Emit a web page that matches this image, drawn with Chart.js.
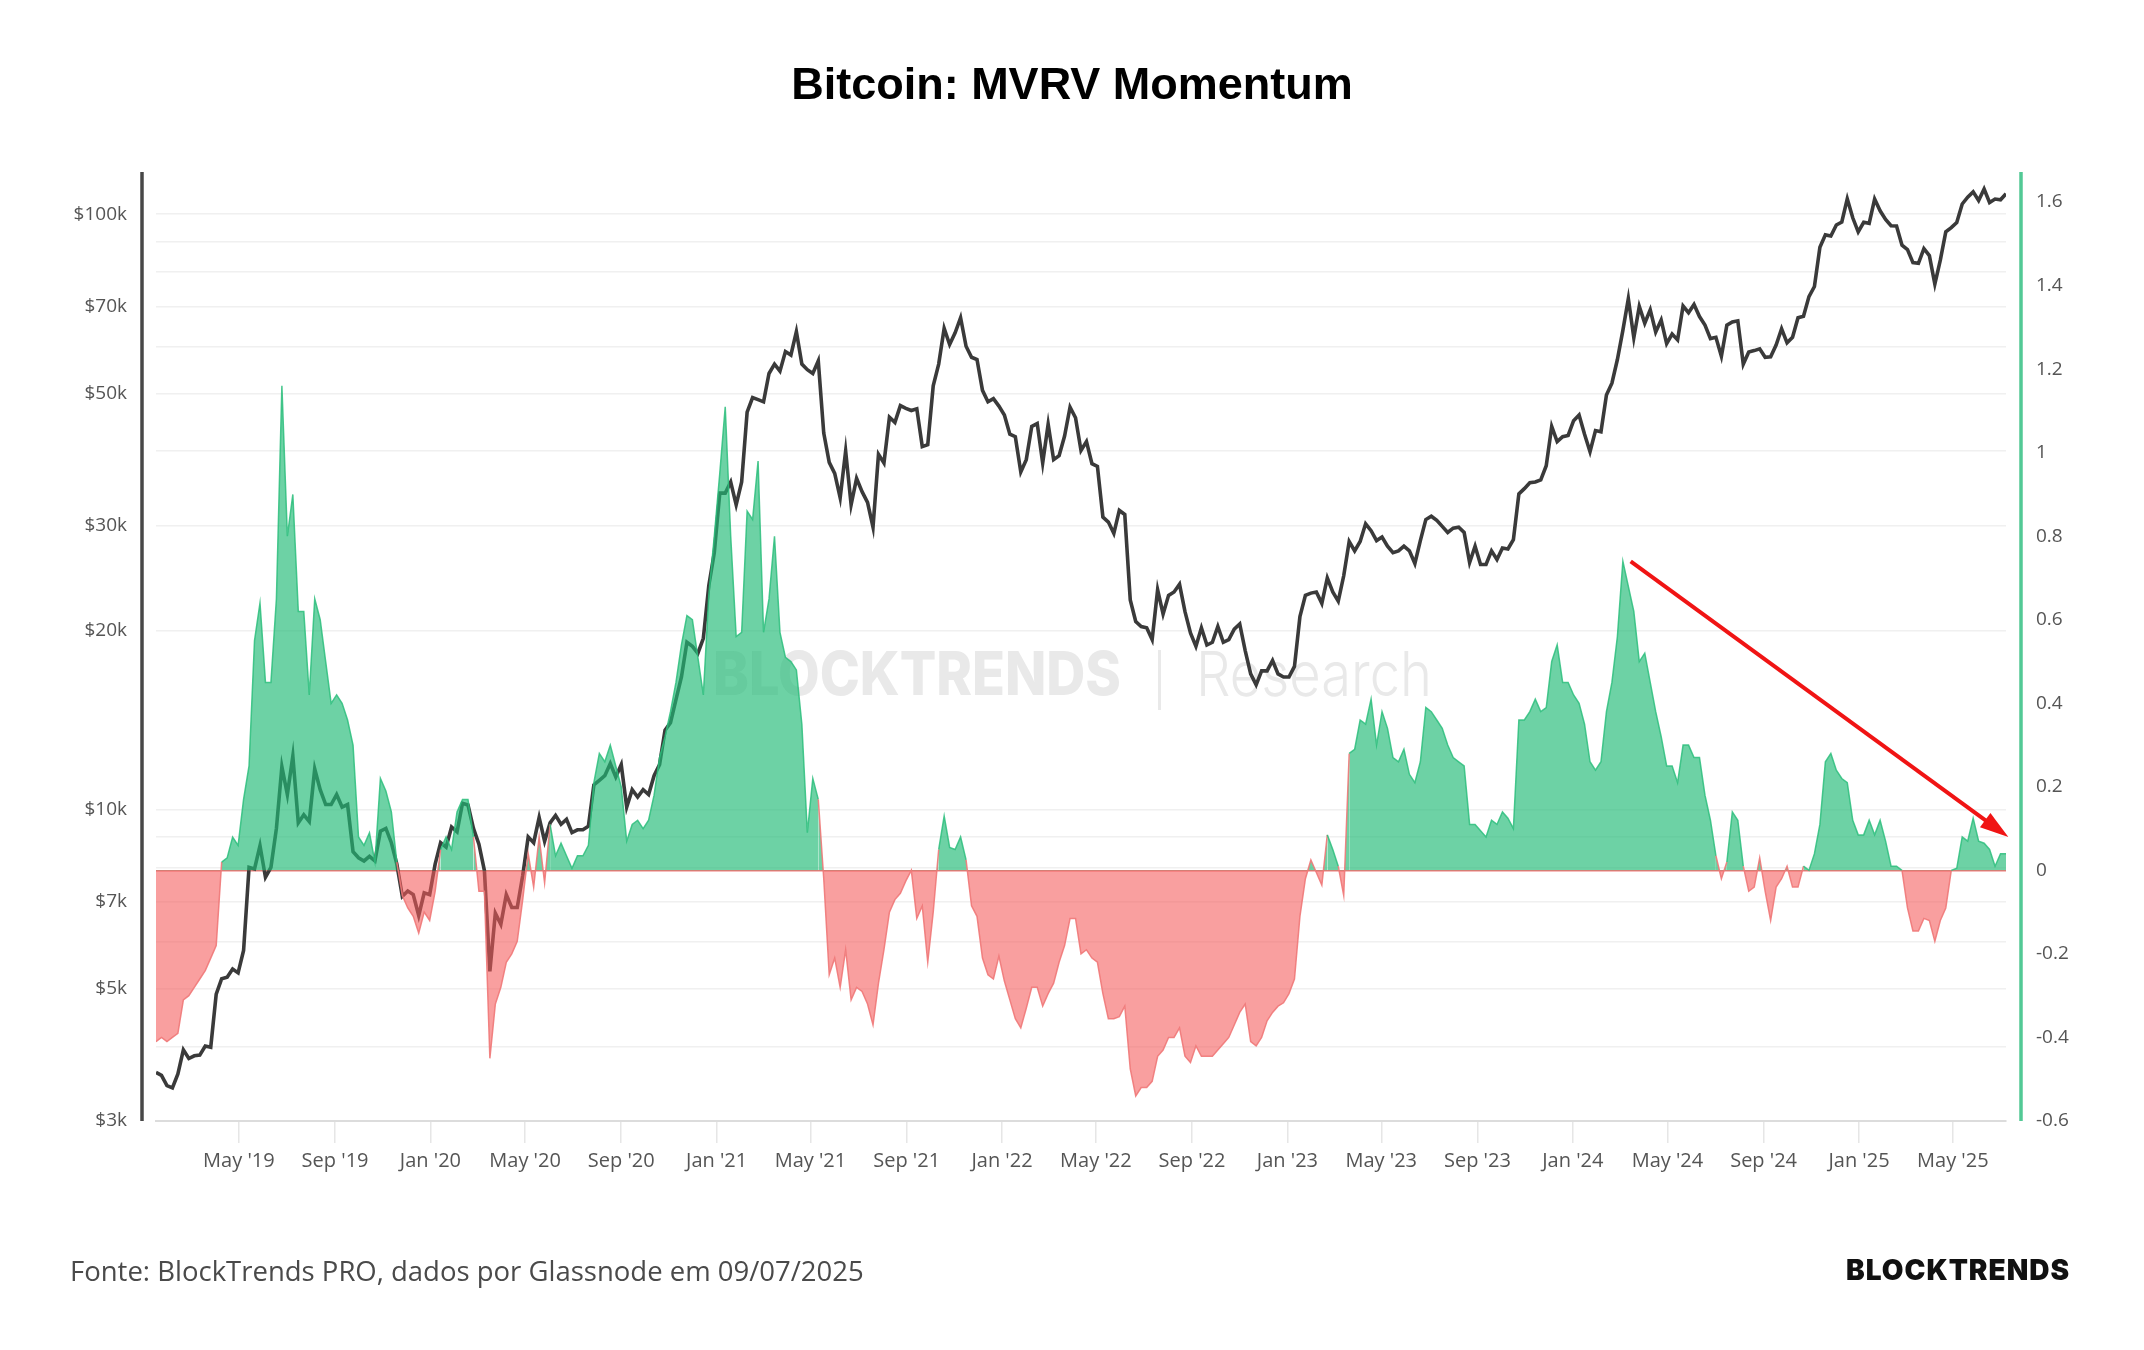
<!DOCTYPE html>
<html>
<head>
<meta charset="utf-8">
<script src="https://cdn.jsdelivr.net/npm/chart.js@4.4.1/dist/chart.umd.min.js"></script>
<style>
  html, body { margin: 0; padding: 0; background: #fff; }
  #wrap { position: relative; width: 2144px; height: 1350px; overflow: hidden; }
  #title { position: absolute; top: 58px; left: 0; width: 2144px; text-align: center;
           font: 700 45px "Liberation Sans", Arial, sans-serif; color: #000; }
  #source { position: absolute; left: 70px; top: 1252px; font: 400 27.5px "Open Sans", sans-serif; color: #4a4a4a; white-space: nowrap; }
  #brand { position: absolute; left: 1846px; top: 1253px; font: 900 28px Inter, sans-serif; color: #111; letter-spacing: 1px; white-space: nowrap; }
  canvas { position: absolute; left: 0; top: 0; }
</style>
</head>
<body>
<div id="wrap">
  <canvas id="c" width="2144" height="1350"></canvas>
  <div id="title">Bitcoin: MVRV Momentum</div>
  <div id="source">Fonte: BlockTrends PRO, dados por Glassnode em 09/07/2025</div>
  <div id="brand">BLOCKTRENDS</div>
</div>
<script>
// weekly samples, first one on 2019-01-15, one every 7 days
const weekStart = '2019-01-15';
const weekStep = 7;

// BTC price (USD), weekly
const price = [
  3620, 3580, 3440, 3410, 3600, 3950, 3820, 3860, 3870, 4010, 3990, 4900, 5200, 5230, 5400, 5320,
  5800, 8000, 7950, 8700, 7700, 8000, 9300, 11800, 10600, 12300, 9500, 9800, 9550, 11700, 10800, 10200,
  10200, 10600, 10100, 10200, 8500, 8300, 8200, 8350, 8200, 9200, 9300, 8800, 8100, 7150, 7300, 7200,
  6640, 7250, 7200,
  8100, 8800, 8650, 9350, 9180, 10250, 10180, 9300, 8750, 7900, 5350, 6700, 6420, 7200, 6850, 6850,
  7750, 9000, 8800, 9700, 8850, 9500, 9780, 9450, 9630, 9150, 9250, 9250, 9380, 11000, 11200, 11400,
  11950, 11350, 11900, 10100, 10800, 10500, 10800, 10600, 11400, 11900, 13600, 14000, 15300, 16700, 19100, 18800,
  18300, 19400, 23800, 27000,
  34000, 34000, 35500, 32500, 35500, 46500, 49200, 48800, 48400, 54000, 56000, 54500, 58800, 58000, 63500, 56000,
  54800, 54000, 56700, 42900, 38300, 36700, 33400, 40000, 32500, 36000, 34200, 32800, 29800, 39500, 38200, 45600,
  44700, 47700, 47200, 46800, 47100, 40700, 41000, 51500, 56000, 64300, 60400, 63200, 67000, 60000, 57500, 57000,
  50600, 48400, 49000, 47600,
  46000, 42700, 42300, 36900, 38700, 44000, 44500, 38200, 44400, 38700, 39300, 42400, 47400, 45500, 40100, 41500,
  38100, 37700, 31000, 30400, 29100, 31800, 31300, 22500, 20700, 20300, 20200, 19300, 23400, 21300, 22900, 23200,
  23900, 21500, 19800, 18800, 20200, 18900, 19100, 20300, 19100, 19300, 20100, 20500, 18500, 16900, 16200, 17100,
  17100, 17800, 16900, 16700,
  16700, 17400, 21100, 22900, 23100, 23200, 22200, 24500, 23200, 22400, 24700, 28200, 27200, 28200, 30200, 29400,
  28300, 28700, 27700, 27000, 27200, 27700, 27200, 25900, 28300, 30700, 31100, 30600, 29900, 29200, 29700, 29800,
  29200, 26000, 27700, 25800, 25800, 27200, 26300, 27500, 27400, 28400, 33900, 34600, 35400, 35500, 35800, 37800,
  44000, 41500, 42300, 42500,
  45000, 46000, 42700, 39900, 43300, 43100, 49700, 52000, 57000, 63800, 72100, 62000, 70000, 65600, 69100, 63400,
  66400, 60600, 62900, 61500, 70100, 68300, 70500, 67300, 65100, 61800, 62100, 57700, 65100, 65900, 66200, 56000,
  58700, 59000, 59400, 57500, 57600, 60300, 64200, 60800, 62100, 67000, 67400, 72700, 75600, 88000, 92300, 91900,
  95900, 97000, 106100, 98600, 93400,
  96900, 96500, 106000, 101300, 98000, 95600, 95500, 88700, 87200, 82900, 82700, 87500, 85200, 76300, 83700, 93400,
  94900, 96800, 104000, 106800, 109000, 105400, 110200, 104600, 106000, 105700, 108200
];

// MVRV Momentum, weekly
const mvrv = [
  -0.41, -0.40, -0.41, -0.40, -0.39, -0.31, -0.30, -0.28, -0.26, -0.24, -0.21, -0.18, 0.02, 0.03, 0.08, 0.06,
  0.17, 0.25, 0.55, 0.64, 0.45, 0.45, 0.65, 1.16, 0.80, 0.90, 0.62, 0.62, 0.42, 0.65, 0.60, 0.50,
  0.40, 0.42, 0.40, 0.36, 0.30, 0.08, 0.06, 0.09, 0.02, 0.22, 0.19, 0.14, 0.02, -0.06, -0.09, -0.11,
  -0.15, -0.10, -0.12,
  -0.05, 0.05, 0.08, 0.05, 0.14, 0.17, 0.17, 0.08, -0.05, -0.05, -0.45, -0.32, -0.28, -0.22, -0.20, -0.17,
  -0.07, 0.04, -0.04, 0.08, -0.03, 0.11, 0.035, 0.065, 0.035, 0.005, 0.035, 0.035, 0.06, 0.21, 0.28, 0.26,
  0.30, 0.25, 0.20, 0.07, 0.11, 0.12, 0.10, 0.12, 0.18, 0.27, 0.32, 0.38, 0.45, 0.54, 0.61, 0.60,
  0.51, 0.42, 0.66, 0.80,
  0.95, 1.11, 0.80, 0.56, 0.57, 0.86, 0.84, 0.98, 0.57, 0.65, 0.80, 0.57, 0.51, 0.50, 0.48, 0.35,
  0.09, 0.22, 0.17, -0.02, -0.25, -0.21, -0.28, -0.19, -0.31, -0.28, -0.29, -0.32, -0.37, -0.27, -0.19, -0.10,
  -0.07, -0.055, -0.025, 0.0, -0.115, -0.085, -0.22, -0.10, 0.05, 0.13, 0.055, 0.05, 0.08, 0.025, -0.085, -0.11,
  -0.21, -0.25, -0.26, -0.205,
  -0.265, -0.31, -0.355, -0.377, -0.33, -0.28, -0.28, -0.325, -0.295, -0.27, -0.22, -0.18, -0.115, -0.115, -0.20, -0.19,
  -0.21, -0.22, -0.295, -0.355, -0.355, -0.35, -0.325, -0.475, -0.54, -0.52, -0.52, -0.505, -0.445, -0.43, -0.40, -0.40,
  -0.377, -0.445, -0.46, -0.42, -0.445, -0.445, -0.445, -0.43, -0.415, -0.40, -0.37, -0.34, -0.32, -0.41, -0.42, -0.40,
  -0.36, -0.34, -0.325, -0.317,
  -0.295, -0.26, -0.11, -0.02, 0.025, -0.005, -0.035, 0.085, 0.05, 0.01, -0.06, 0.28, 0.29, 0.36, 0.35, 0.41,
  0.30, 0.38, 0.34, 0.27, 0.26, 0.29, 0.23, 0.21, 0.26, 0.39, 0.38, 0.36, 0.34, 0.30, 0.27, 0.26,
  0.25, 0.11, 0.11, 0.095, 0.08, 0.12, 0.11, 0.14, 0.125, 0.10, 0.36, 0.36, 0.38, 0.41, 0.38, 0.39,
  0.50, 0.54, 0.45, 0.45,
  0.42, 0.40, 0.35, 0.26, 0.24, 0.26, 0.38, 0.45, 0.56, 0.74, 0.68, 0.62, 0.50, 0.52, 0.45, 0.38,
  0.32, 0.25, 0.25, 0.21, 0.30, 0.30, 0.27, 0.27, 0.18, 0.12, 0.035, -0.02, 0.02, 0.14, 0.12, 0.01,
  -0.05, -0.04, 0.03, -0.05, -0.12, -0.04, -0.02, 0.01, -0.04, -0.04, 0.01, 0.0, 0.04, 0.11, 0.26, 0.28,
  0.24, 0.22, 0.21, 0.12, 0.085,
  0.085, 0.12, 0.085, 0.12, 0.07, 0.01, 0.01, 0.0, -0.09, -0.145, -0.145, -0.115, -0.12, -0.17, -0.12, -0.09,
  0.0, 0.005, 0.08, 0.07, 0.125, 0.07, 0.065, 0.05, 0.01, 0.04, 0.04
];

// axis ticks
const monthTicks = ['2019-05-01', '2019-09-01', '2020-01-01', '2020-05-01', '2020-09-01', '2021-01-01', '2021-05-01',
  '2021-09-01', '2022-01-01', '2022-05-01', '2022-09-01', '2023-01-01', '2023-05-01', '2023-09-01', '2024-01-01',
  '2024-05-01', '2024-09-01', '2025-01-01', '2025-05-01'];
const priceGrid = [3000, 4000, 5000, 6000, 7000, 8000, 9000, 10000, 20000, 30000, 40000, 50000, 60000, 70000, 80000, 90000, 100000];
const priceLabels = [3000, 5000, 7000, 10000, 20000, 30000, 50000, 70000, 100000];
const mvrvTicks = [-0.6, -0.4, -0.2, 0, 0.2, 0.4, 0.6, 0.8, 1, 1.2, 1.4, 1.6];

// annotation arrow (date, mvrv)
const arrowDates = ['2024-03-15', '2025-07-11'];
const arrowValues = [0.74, 0.08];

const MONTHS = ['Jan', 'Feb', 'Mar', 'Apr', 'May', 'Jun', 'Jul', 'Aug', 'Sep', 'Oct', 'Nov', 'Dec'];
function dayNum(s) {
  const [y, m, d] = s.split('-').map(Number);
  return Date.UTC(y, m - 1, d) / 86400000;
}
function monthLabel(v) {
  const dt = new Date(v * 86400000);
  return MONTHS[dt.getUTCMonth()] + " '" + String(dt.getUTCFullYear()).slice(2);
}

const start = dayNum(weekStart);
const days = price.map((_, i) => start + weekStep * i);
const tickFont = { family: 'Open Sans', size: 19 };

const decor = {
  id: 'decor',
  beforeDatasetsDraw(chart) {
    const ctx = chart.ctx;
    ctx.save();
    ctx.fillStyle = '#e9e9e9';
    ctx.textBaseline = 'middle';
    ctx.font = '800 60px Inter';
    let w = ctx.measureText('BLOCKTRENDS').width;
    ctx.save();
    ctx.translate(713, 677);
    ctx.scale(408 / w, 1);
    ctx.fillText('BLOCKTRENDS', 0, 0);
    ctx.restore();
    ctx.fillRect(1158, 650, 3, 60);
    ctx.font = '300 62px Inter';
    w = ctx.measureText('Research').width;
    ctx.translate(1196, 677);
    ctx.scale(236 / w, 1);
    ctx.fillText('Research', 0, 0);
    ctx.restore();
  },
  afterDraw(chart) {
    const ctx = chart.ctx;
    const a = chart.chartArea;
    ctx.save();
    ctx.lineWidth = 3.5;
    ctx.strokeStyle = '#474747';
    ctx.beginPath();
    ctx.moveTo(a.left - 14, a.top);
    ctx.lineTo(a.left - 14, a.bottom);
    ctx.stroke();
    ctx.strokeStyle = '#52c995';
    ctx.beginPath();
    ctx.moveTo(a.right + 15, a.top);
    ctx.lineTo(a.right + 15, a.bottom);
    ctx.stroke();

    const xs = chart.scales.x, ys = chart.scales.yMvrv;
    const x1 = xs.getPixelForValue(dayNum(arrowDates[0])), y1 = ys.getPixelForValue(arrowValues[0]);
    const x2 = xs.getPixelForValue(dayNum(arrowDates[1])), y2 = ys.getPixelForValue(arrowValues[1]);
    const ang = Math.atan2(y2 - y1, x2 - x1);
    const head = 30;
    ctx.strokeStyle = '#f01414';
    ctx.fillStyle = '#f01414';
    ctx.lineWidth = 4;
    ctx.beginPath();
    ctx.moveTo(x1, y1);
    ctx.lineTo(x2 - head * 0.8 * Math.cos(ang), y2 - head * 0.8 * Math.sin(ang));
    ctx.stroke();
    ctx.beginPath();
    ctx.moveTo(x2, y2);
    ctx.lineTo(x2 - head * Math.cos(ang - 0.3), y2 - head * Math.sin(ang - 0.3));
    ctx.lineTo(x2 - head * Math.cos(ang + 0.3), y2 - head * Math.sin(ang + 0.3));
    ctx.closePath();
    ctx.fill();
    ctx.restore();
  }
};

new Chart(document.getElementById('c'), {
  type: 'line',
  data: {
    datasets: [
      {
        label: 'MVRV Momentum',
        yAxisID: 'yMvrv',
        data: days.map((d, i) => ({ x: d, y: mvrv[i] })),
        borderWidth: 1.5,
        pointRadius: 0,
        tension: 0,
        fill: { target: 'origin', above: 'rgba(34,187,119,0.66)', below: 'rgba(244,90,90,0.58)' },
        segment: {
          borderColor: c => (c.p0.parsed.y < 0 || c.p1.parsed.y < 0) ? 'rgba(240,120,120,0.9)' : 'rgba(45,190,125,0.85)'
        },
        order: 0
      },
      {
        label: 'BTC Price',
        yAxisID: 'yPrice',
        data: days.map((d, i) => ({ x: d, y: price[i] })),
        borderColor: '#3a3a3a',
        borderWidth: 3.6,
        pointRadius: 0,
        tension: 0,
        fill: false,
        order: 1
      }
    ]
  },
  options: {
    responsive: false,
    animation: false,
    devicePixelRatio: 1,
    layout: { padding: { top: 172, left: 0, right: 0, bottom: 0 } },
    plugins: { legend: { display: false }, tooltip: { enabled: false } },
    scales: {
      x: {
        type: 'linear',
        min: days[0],
        max: days[days.length - 1],
        afterBuildTicks: s => { s.ticks = monthTicks.map(d => ({ value: dayNum(d) })); },
        ticks: { autoSkip: false, maxRotation: 0, padding: 6, color: '#555', font: { family: 'Open Sans', size: 20 }, callback: v => monthLabel(v) },
        grid: { drawOnChartArea: false, drawTicks: true, tickLength: 22, color: '#e6e6e6', lineWidth: 1.5 },
        border: { display: true, color: '#dcdcdc', width: 2 },
        afterFit: s => { s.height = 229; }
      },
      yPrice: {
        type: 'logarithmic',
        position: 'left',
        min: 3000,
        max: 117700,
        afterBuildTicks: s => { s.ticks = priceGrid.map(v => ({ value: v })); },
        ticks: { autoSkip: false, padding: 29, color: '#555', font: tickFont,
                 callback: v => priceLabels.includes(v) ? '$' + (v / 1000) + 'k' : '' },
        grid: { color: '#f0f0f0', lineWidth: 1.5, drawTicks: false },
        border: { display: false },
        afterFit: s => { s.width = 156; }
      },
      yMvrv: {
        type: 'linear',
        position: 'right',
        min: -0.6,
        max: 1.672,
        afterBuildTicks: s => { s.ticks = mvrvTicks.map(v => ({ value: v })); },
        ticks: { autoSkip: false, padding: 30, color: '#555', font: tickFont, callback: v => String(v) },
        grid: { drawTicks: false, lineWidth: 1.5,
                color: c => (c.tick && c.tick.value === 0) ? 'rgba(238,110,110,0.9)' : 'rgba(0,0,0,0)' },
        border: { display: false },
        afterFit: s => { s.width = 138; }
      }
    }
  },
  plugins: [decor]
});
</script>
</body>
</html>
